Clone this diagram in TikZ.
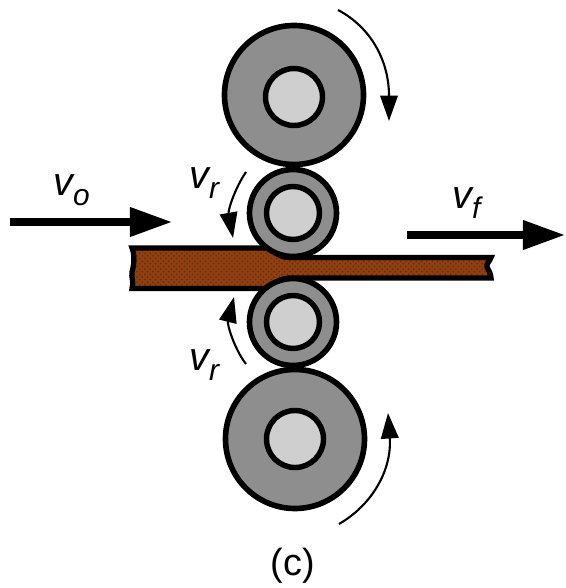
\documentclass[tikz,border=0pt]{standalone}
\usepackage{fontspec}
\setmainfont{Liberation Sans}
\usepackage{xcolor}
\usetikzlibrary{arrows.meta,patterns}
\definecolor{stripbrown}{HTML}{8F3F10}
\definecolor{stripdot}{HTML}{5E2A0C}
\definecolor{rollgrey}{HTML}{8E8E8E}
\definecolor{hubgrey}{HTML}{CFCFCF}
\newcommand{\vel}[1]{\fontsize{22.5}{24}\selectfont\itshape v\raisebox{-5.7pt}{\fontsize{17}{19}\selectfont #1}}
\tikzset{
  roller/.style={draw=black, fill=rollgrey, line width=3.2pt},
  hub/.style={draw=black, fill=hubgrey, line width=3.1pt},
  speed/.style={draw=black, line width=4pt, -{Triangle[length=24pt, width=16pt]}},
  spin/.style={draw=black, line width=1.2pt, -{Triangle[length=14.5pt, width=10pt]}},
  lbl/.style={anchor=base west, inner sep=0pt},
}

\begin{document}
\begin{tikzpicture}[x=0.02cm, y=-0.02cm]
\useasboundingbox (0,0) rectangle (565,588);

% Strip
\def\strippath{(132,248) -- (264,248) .. controls (273,248) and (277,257.5) .. (289,257.5)
  -- (491,257.5) .. controls (490,261) and (486,264) .. (487,267) .. controls (488,270) and (491,273) .. (491,278)
  -- (289,278) .. controls (277,278) and (273,288.5) .. (264,288.5)
  -- (132,288.5) .. controls (134,282) and (131,277) .. (132,272) .. controls (134,265) and (135,255) .. (132,248) -- cycle}
\fill[stripbrown] \strippath;
\fill[pattern=crosshatch dots, pattern color=stripdot] \strippath;
\draw[line width=3pt, line join=miter] \strippath;

% Large rollers
\draw[roller] (294,95) circle (69.5);
\draw[hub] (294,97) circle (28.5);
\draw[roller] (295,439) circle (69.5);
\draw[hub] (295,439) circle (28.5);

% Small rollers
\draw[roller] (293,213) circle (43.5);
\draw[hub] (293,213) circle (26.5);
\draw[roller] (293,322) circle (43.5);
\draw[hub] (293,322) circle (26.5);

% Speed arrows
\coordinate (inA) at (10,222);
\coordinate (inB) at (172,222);
\coordinate (outA) at (407,235);
\coordinate (outB) at (565,235);
\draw[speed] (inA) -- (inB);
\draw[speed] (outA) -- (outB);

% Rotation arrows
\coordinate (topA) at (338,10);
\coordinate (topB) at (389,121);
\coordinate (botA) at (339,524);
\coordinate (botB) at (388,413);
\coordinate (upA) at (246,172);
\coordinate (upB) at (233,238);
\coordinate (lowA) at (246,364);
\coordinate (lowB) at (234,297);
\draw[spin] (topA) .. controls (372,28) and (389,62) .. (topB);
\draw[spin] (botA) .. controls (372,505) and (392,470) .. (botB);
\draw[spin] (upA) .. controls (235,188) and (228,210) .. (upB);
\draw[spin] (lowA) .. controls (235,350) and (227,325) .. (lowB);

% Labels
\node[lbl] (vo) at (53,195) {\vel{o}};
\node[lbl] (vf) at (452,208) {\vel{f}};
\node[lbl] (vrtop) at (189,188) {\vel{r}};
\node[lbl] (vrbot) at (189,370) {\vel{r}};
\node[font=\fontsize{21.5}{23}\selectfont] (cap) at (293,566) {(c)};

\end{tikzpicture}
\end{document}
